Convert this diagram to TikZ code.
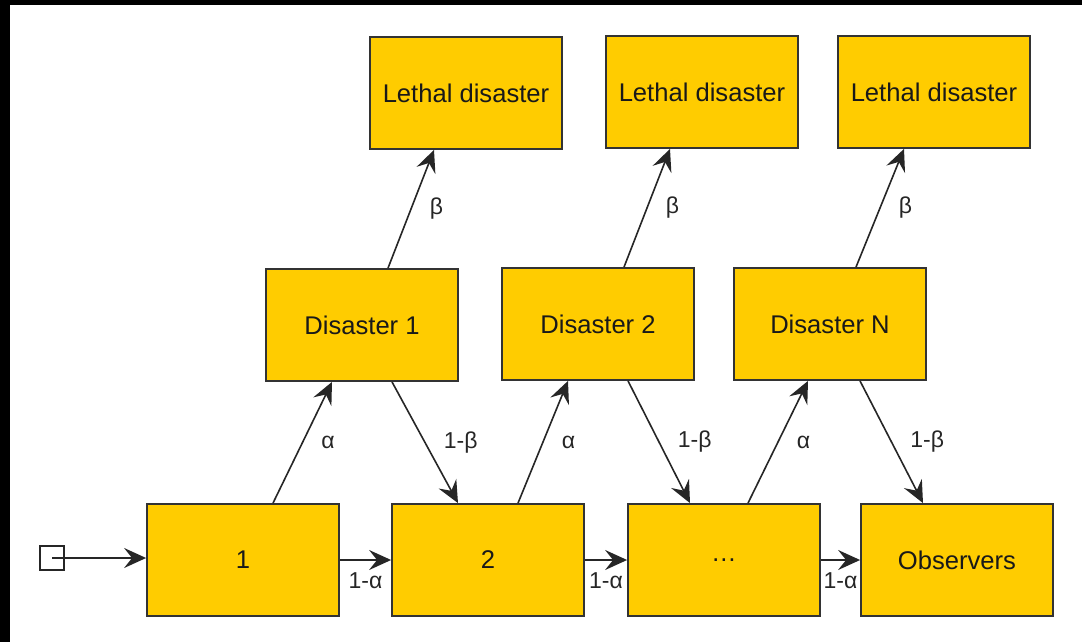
\documentclass[tikz,border=0pt]{standalone}
\usepackage{fontspec}
\setmainfont{Liberation Sans}
\usetikzlibrary{arrows.meta}
\definecolor{boxyellow}{RGB}{255,204,0}
\definecolor{boxedge}{RGB}{51,51,51}

\begin{document}
\begin{tikzpicture}[x=0.5pt, y=-0.5pt,
  state/.style={draw=boxedge, line width=0.9pt, fill=boxyellow, minimum width=96pt,
    minimum height=56pt, inner sep=0pt, text=black!90, font=\fontsize{12.8}{15}\selectfont},
  flow/.style={-{Stealth[length=11pt,width=10pt,inset=4pt]}, line width=0.8pt, draw=black!85},
  prob/.style={inner sep=2pt, text=black!85, font=\fontsize{11.5}{14}\selectfont}]
  % frame
  \fill[black] (0,0) rectangle (1082,642);
  \fill[white] (10,5) rectangle (1082,642);
  % chain
  \node[draw=black!85, minimum size=12pt, inner sep=0pt, line width=0.6pt] (start) at (52,558) {};
  \node[state] (s1) at (243,560) {1};
  \node[state] (s2) at (488,560) {2};
  \node[state] (s3) at (724,560) {\dots};
  \node[state] (obs) at (957,560) {Observers};
  % disasters
  \node[state] (d1) at (362,325) {Disaster 1};
  \node[state] (d2) at (598,324) {Disaster 2};
  \node[state] (dn) at (830,324) {Disaster N};
  % lethal
  \node[state] (l1) at (466,93) {Lethal disaster};
  \node[state] (l2) at (702,92) {Lethal disaster};
  \node[state] (ln) at (934,92) {Lethal disaster};

  \draw[flow] (start.center) -- (start.center -| s1.west);
  \draw[flow] (s1.east) -- (s1.east -| s2.west) node[prob, midway, below=4pt] {1-α};
  \draw[flow] (s2.east) -- (s2.east -| s3.west) node[prob, midway, below=4pt] {1-α};
  \draw[flow] (s3.east) -- (s3.east -| obs.west) node[prob, midway, below=4pt] {1-α};

  \draw[flow] ([xshift=15pt]s1.north) -- ([xshift=-15pt]d1.south) node[prob, midway, right=7pt] {α};
  \draw[flow] ([xshift=15pt]s2.north) -- ([xshift=-15pt]d2.south) node[prob, midway, right=7pt] {α};
  \draw[flow] ([xshift=12pt]s3.north) -- ([xshift=-11pt]dn.south) node[prob, midway, right=7pt] {α};

  \draw[flow] ([xshift=15pt]d1.south) -- ([xshift=-15pt]s2.north) node[prob, midway, right=7pt] {1-β};
  \draw[flow] ([xshift=15pt]d2.south) -- ([xshift=-17pt]s3.north) node[prob, midway, right=7pt] {1-β};
  \draw[flow] ([xshift=15pt]dn.south) -- ([xshift=-17pt]obs.north) node[prob, midway, right=7pt] {1-β};

  \draw[flow] ([xshift=13pt]d1.north) -- ([xshift=-16pt]l1.south) node[prob, midway, right=7pt] {β};
  \draw[flow] ([xshift=13pt]d2.north) -- ([xshift=-16pt]l2.south) node[prob, midway, right=7pt] {β};
  \draw[flow] ([xshift=13pt]dn.north) -- ([xshift=-15pt]ln.south) node[prob, midway, right=7pt] {β};
\end{tikzpicture}
\end{document}
